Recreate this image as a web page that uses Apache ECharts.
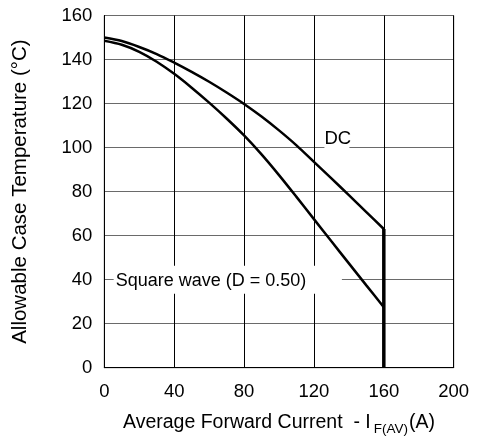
<!DOCTYPE html>
<html>
<head>
<meta charset="utf-8">
<script src="https://cdn.jsdelivr.net/npm/echarts@6/dist/echarts.min.js"></script>
<style>
html,body{margin:0;padding:0;background:#fff;}
#c{width:478px;height:437px;}
</style>
</head>
<body>
<div id="c"></div>
<script>
var currentA = [0, 10, 20, 30, 40, 50, 60, 70, 80, 90, 100, 110, 120, 130, 140, 150, 160];
var dcTemp = [150, 148.4, 145.7, 142.5, 138.6, 134.4, 129.9, 125, 119.8, 114.1, 107.8, 101, 93.5, 86, 78.4, 70.7, 63];
var squareTemp = [148.5, 146.7, 143.5, 139, 133.5, 127.2, 120.4, 113.2, 105.5, 96.9, 87.5, 77.6, 67.5, 57.4, 47.4, 37.4, 27.5];
var limitCurrent = [160, 160];
var limitTemp = [63, 0];
var xTicks = [0, 40, 80, 120, 160, 200];
var yTicks = [0, 20, 40, 60, 80, 100, 120, 140, 160];
var labelDC = 'DC';
var labelSquare = 'Square wave (D = 0.50)';

function pairs(xs, ys) { return xs.map(function (x, i) { return [x, ys[i]]; }); }

var FONT = "'Liberation Sans', Arial, sans-serif";
var chart = echarts.init(document.getElementById('c'), null, {renderer: 'canvas'});
var option = {
  animation: false,
  backgroundColor: '#fff',
  grid: {left: 104.3, right: 24.3, top: 15.5, bottom: 69.3, show: true, borderColor: '#555', borderWidth: 1,
         containLabel: false, outerBoundsMode: 'none'},
  xAxis: {
    type: 'value', min: xTicks[0], max: xTicks[xTicks.length - 1], interval: 40,
    axisLine: {show: true, lineStyle: {color: '#000', width: 1}},
    axisTick: {show: false},
    axisLabel: {color: '#000', fontSize: 18.5, fontFamily: FONT, margin: 15},
    splitLine: {show: true, lineStyle: {color: '#000', width: 1}},
    name: '{a|Average Forward Current  - I}{sub|F(AV)}{a|(A)}',
    nameLocation: 'middle', nameGap: 41,
    nameTextStyle: {
      rich: {
        a: {fontSize: 19.5, fontFamily: FONT, color: '#000'},
        sub: {fontSize: 13.5, fontFamily: FONT, color: '#000', padding: [14, 1, 0, 3]}
      }
    }
  },
  yAxis: {
    type: 'value', min: yTicks[0], max: yTicks[yTicks.length - 1], interval: 20,
    axisLine: {show: true, lineStyle: {color: '#000', width: 1}},
    axisTick: {show: false},
    axisLabel: {color: '#000', fontSize: 18.5, fontFamily: FONT, margin: 12},
    splitLine: {show: true, lineStyle: {color: '#6a6a6a', width: 1}},
    name: 'Allowable Case Temperature (°C)',
    nameLocation: 'middle', nameGap: 73,
    nameTextStyle: {fontSize: 20.5, fontFamily: FONT, color: '#000'}
  },
  series: [
    {name: 'DC', type: 'line', data: pairs(currentA, dcTemp), smooth: 0.3, showSymbol: false,
     lineStyle: {color: '#000', width: 2.5}, z: 5},
    {name: 'Square', type: 'line', data: pairs(currentA, squareTemp), smooth: 0.3, showSymbol: false,
     lineStyle: {color: '#000', width: 2.5}, z: 5},
    {name: 'Limit', type: 'line', data: pairs(limitCurrent, limitTemp), showSymbol: false,
     lineStyle: {color: '#000', width: 3.5}, z: 5}
  ]
};
chart.setOption(option);

var pSq = chart.convertToPixel({gridIndex: 0}, [6.5, 40]);
var pSqEnd = chart.convertToPixel({gridIndex: 0}, [136, 40]);
var pDC = chart.convertToPixel({gridIndex: 0}, [126, 100]);
chart.setOption({
  graphic: [
    {type: 'rect', z: 3, shape: {x: pSq[0] - 2, y: pSq[1] - 14, width: pSqEnd[0] - pSq[0] + 2, height: 28},
     style: {fill: '#fff'}},
    {type: 'text', z: 4, x: pSq[0], y: pSq[1] + 1,
     style: {text: labelSquare, fontSize: 18, fontFamily: FONT, fill: '#000', textVerticalAlign: 'middle', verticalAlign: 'middle'}},
    {type: 'rect', z: 3, shape: {x: pDC[0], y: pDC[1] - 17, width: 25, height: 18},
     style: {fill: '#fff'}},
    {type: 'text', z: 4, x: pDC[0], y: pDC[1] + 1,
     style: {text: labelDC, fontSize: 18.5, fontFamily: FONT, fill: '#000', verticalAlign: 'bottom', textVerticalAlign: 'bottom'}}
  ]
});
</script>
</body>
</html>
